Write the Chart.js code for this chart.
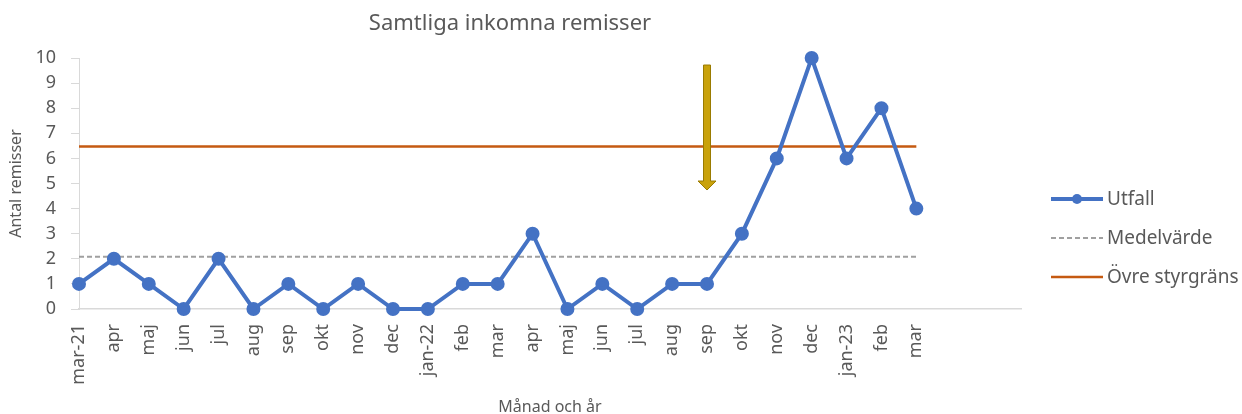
<!DOCTYPE html>
<html lang="sv">
<head>
<meta charset="UTF-8">
<title>Samtliga inkomna remisser</title>
<script src="https://cdn.jsdelivr.net/npm/chart.js"></script>
<style>
  html, body { margin: 0; padding: 0; background: #fff; }
</style>
</head>
<body>
<canvas id="remissChart" width="1242" height="414"></canvas>
<script>
// categories (three empty slots at the end, as in the original sheet)
const months = ['mar-21', 'apr', 'maj', 'jun', 'jul', 'aug', 'sep', 'okt', 'nov', 'dec',
                'jan-22', 'feb', 'mar', 'apr', 'maj', 'jun', 'jul', 'aug', 'sep', 'okt',
                'nov', 'dec', 'jan-23', 'feb', 'mar', '', '', ''];

const utfall = [1, 2, 1, 0, 2, 0, 1, 0, 1, 0, 0, 1, 1, 3, 0, 1, 0, 1, 1, 3, 6, 10, 6, 8, 4];

const medelvarde = [2.08, 2.08, 2.08, 2.08, 2.08, 2.08, 2.08, 2.08, 2.08, 2.08, 2.08, 2.08, 2.08,
                    2.08, 2.08, 2.08, 2.08, 2.08, 2.08, 2.08, 2.08, 2.08, 2.08, 2.08, 2.08];

const ovreStyrgrans = [6.47, 6.47, 6.47, 6.47, 6.47, 6.47, 6.47, 6.47, 6.47, 6.47, 6.47, 6.47, 6.47,
                       6.47, 6.47, 6.47, 6.47, 6.47, 6.47, 6.47, 6.47, 6.47, 6.47, 6.47, 6.47];

const yMin = 0;
const yMax = 10;

// arrow marker at sep-22, from / to in y-axis units
const arrowIndex = 18;
const arrowFrom = 9.72;
const arrowTo = 4.74;

const textColor = '#595959';
const fontFamily = "'Noto Sans', sans-serif";

const titleAndLegendPlugin = {
    id: 'titleAndLegend',
    afterDatasetsDraw(chart) {
        const ctx = chart.ctx;
        const x = chart.scales.x.getPixelForValue(arrowIndex);
        const yTop = chart.scales.y.getPixelForValue(arrowFrom);
        const yTip = chart.scales.y.getPixelForValue(arrowTo);
        const shaft = 3.5, head = 9, headLen = 9;

        ctx.save();
        ctx.beginPath();
        ctx.moveTo(x - shaft, yTop);
        ctx.lineTo(x + shaft, yTop);
        ctx.lineTo(x + shaft, yTip - headLen);
        ctx.lineTo(x + head, yTip - headLen);
        ctx.lineTo(x, yTip);
        ctx.lineTo(x - head, yTip - headLen);
        ctx.lineTo(x - shaft, yTip - headLen);
        ctx.closePath();
        ctx.fillStyle = '#C9A20B';
        ctx.fill();
        ctx.lineWidth = 1;
        ctx.strokeStyle = '#9A7B00';
        ctx.stroke();
        ctx.restore();
    },
    afterDraw(chart) {
        const ctx = chart.ctx;
        ctx.save();

        // title
        ctx.fillStyle = textColor;
        ctx.font = "22px " + fontFamily;
        ctx.textAlign = 'center';
        ctx.textBaseline = 'middle';
        ctx.fillText('Samtliga inkomna remisser', 510, 24);

        // legend
        const lx = chart.chartArea.right + 30;
        const lw = 52;
        let ly = 199;
        ctx.font = "19px " + fontFamily;
        ctx.textAlign = 'left';
        chart.data.datasets.forEach(ds => {
            ctx.save();
            ctx.beginPath();
            ctx.strokeStyle = ds.borderColor;
            ctx.lineWidth = ds.borderWidth;
            ctx.setLineDash(ds.borderDash || []);
            ctx.moveTo(lx, ly);
            ctx.lineTo(lx + lw, ly);
            ctx.stroke();
            if (ds.pointRadius > 0) {
                ctx.beginPath();
                ctx.fillStyle = ds.pointBackgroundColor;
                ctx.arc(lx + lw / 2, ly, ds.pointRadius, 0, Math.PI * 2);
                ctx.fill();
            }
            ctx.restore();
            ctx.fillStyle = textColor;
            ctx.fillText(ds.label, lx + lw + 4, ly + 1);
            ly += 39;
        });
        ctx.restore();
    }
};

new Chart(document.getElementById('remissChart'), {
    type: 'line',
    data: {
        labels: months,
        datasets: [
            {
                label: 'Utfall',
                data: utfall,
                borderColor: '#4472C4',
                backgroundColor: '#4472C4',
                pointBackgroundColor: '#4472C4',
                pointBorderColor: '#4472C4',
                borderWidth: 4,
                pointRadius: 5,
                tension: 0,
                clip: false
            },
            {
                label: 'Medelvärde',
                data: medelvarde,
                borderColor: '#A0A0A0',
                borderWidth: 2,
                borderDash: [5, 3],
                pointRadius: 0
            },
            {
                label: 'Övre styrgräns',
                data: ovreStyrgrans,
                borderColor: '#C55A11',
                borderWidth: 2.5,
                pointRadius: 0
            }
        ]
    },
    options: {
        responsive: false,
        animation: false,
        layout: {
            padding: { top: 58, right: 221, left: 0, bottom: 0 }
        },
        plugins: {
            legend: { display: false },
            title: { display: false },
            tooltip: { enabled: false }
        },
        scales: {
            x: {
                offset: false,
                grid: { display: false, drawTicks: false },
                border: { display: true, color: '#D9D9D9', width: 1.5 },
                ticks: {
                    autoSkip: false,
                    minRotation: 90,
                    maxRotation: 90,
                    padding: 15,
                    color: textColor,
                    font: { family: fontFamily, size: 18 }
                },
                title: {
                    display: true,
                    text: 'Månad och år',
                    color: textColor,
                    font: { family: fontFamily, size: 16 },
                    padding: { top: 0, bottom: -3 }
                },
                afterFit(scale) {
                    scale.height = 105;
                }
            },
            y: {
                min: yMin,
                max: yMax,
                grid: { drawOnChartArea: false, drawTicks: true, tickLength: 8, color: '#D9D9D9' },
                border: { display: true, color: '#D9D9D9' },
                ticks: {
                    stepSize: 1,
                    autoSkip: false,
                    padding: 15,
                    color: textColor,
                    font: { family: fontFamily, size: 18 }
                },
                title: {
                    display: true,
                    text: 'Antal remisser',
                    color: textColor,
                    font: { family: fontFamily, size: 16 },
                    padding: { top: 7, bottom: 0 }
                },
                afterFit(scale) {
                    scale.width = 79;
                }
            }
        }
    },
    plugins: [titleAndLegendPlugin]
});
</script>
</body>
</html>
